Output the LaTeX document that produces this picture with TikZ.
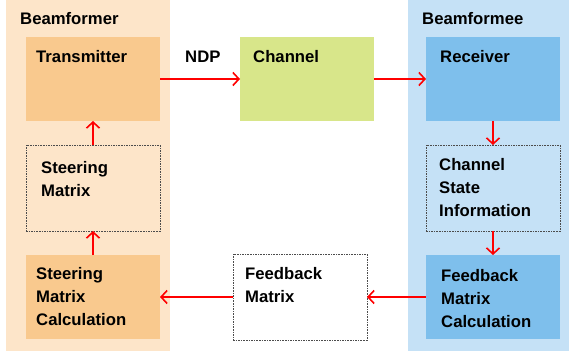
\documentclass[tikz,border=0pt]{standalone}
\usepackage{fontspec}
\setmainfont{Liberation Sans}
\usetikzlibrary{arrows.meta, positioning}

\definecolor{formerbg}{HTML}{FDE5C9}
\definecolor{formerblk}{HTML}{F9C98E}
\definecolor{formeebg}{HTML}{C5E1F6}
\definecolor{formeeblk}{HTML}{7EBFEC}
\definecolor{chanblk}{HTML}{D8E68A}

\begin{document}
\begin{tikzpicture}[
      x=1pt, y=-1pt,
      font=\fontsize{16.7}{23.3}\selectfont\bfseries,
      >={Straight Barb[length=6pt,width=13pt]},
      node distance=24pt and 80pt,
      panel/.style={anchor=north west, inner sep=0, outer sep=0, minimum height=351pt},
      blk/.style={minimum width=134pt, minimum height=84pt, inner sep=0, outer sep=0},
      dashblk/.style={blk, minimum height=86pt, draw=black!70, line width=0.8pt, dash pattern=on 1.6pt off 1pt},
      txt/.style={anchor=north west, inner sep=0, align=left},
      flow/.style={->, draw=red, line width=1.6pt},
    ]
      \useasboundingbox (0,0) rectangle (569,358);

      % panels
      \node[panel, fill=formerbg, minimum width=164pt] (former) at (6,0) {};
      \node[panel, fill=formeebg, minimum width=161pt] (formee) at (408,0) {};
      \node[txt] (formerlbl) at ([shift={(14,12)}]former.north west) {Beamformer};
      \node[txt] (formeelbl) at ([shift={(14,12)}]formee.north west) {Beamformee};

      % beamformer side
      \node[blk, fill=formerblk, anchor=north west] (tx) at (26,37) {};
      \node[dashblk, below=of tx] (sm) {};
      \node[blk, fill=formerblk, below=of sm] (smc) {};

      % channel
      \node[blk, fill=chanblk, right=of tx] (ch) {};
      \node[txt] (ndp) at (185,51) {NDP};

      % beamformee side
      \node[blk, fill=formeeblk, anchor=north west] (rx) at (426,37) {};
      \node[dashblk, fill=formeebg, below=of rx] (csi) {};
      \node[blk, fill=formeeblk, below=of csi] (fmc) {};

      % feedback
      \node[dashblk, fill=white, left=59pt of fmc] (fb) {};

      % texts
      \node[txt] at ([shift={(10,13)}]tx.north west) {Transmitter};
      \node[txt] at ([shift={(15,16)}]sm.north west) {Steering\\Matrix};
      \node[txt] at ([shift={(10,12)}]smc.north west) {Steering\\Matrix\\Calculation};
      \node[txt] at ([shift={(13,13)}]ch.north west) {Channel};
      \node[txt] at ([shift={(14,13)}]rx.north west) {Receiver};
      \node[txt] at ([shift={(13,13)}]csi.north west) {Channel\\State\\Information};
      \node[txt] at ([shift={(15,14)}]fmc.north west) {Feedback\\Matrix\\Calculation};
      \node[txt] at ([shift={(12,13)}]fb.north west) {Feedback\\Matrix};

      \draw[flow] (tx) -- (ch);
      \draw[flow] (ch) -- (rx);
      \draw[flow] (rx) -- (csi);
      \draw[flow] (csi) -- (fmc);
      \draw[flow] (fmc) -- (fb);
      \draw[flow] (fb) -- (smc);
      \draw[flow] (smc) -- (sm);
      \draw[flow] (sm) -- (tx);
    \end{tikzpicture}
\end{document}
